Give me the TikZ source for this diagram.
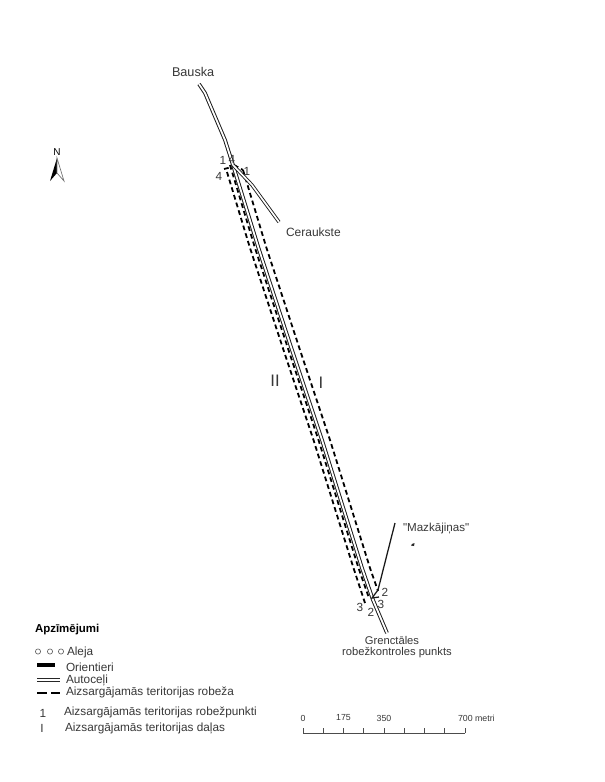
\documentclass[tikz,border=0pt]{standalone}
\usepackage{fontspec}
\setmainfont{Liberation Sans}
\newfontfamily\plainfam{Liberation Sans}
\tikzset{
  lbl/.style={inner sep=0pt,outer sep=0pt,text=black!78,font=\fontsize{8.85}{10.5}\selectfont},
  small/.style={lbl,font=\fontsize{6.6}{8}\selectfont},
  roadline/.style={draw=black!90,double=white,line width=0.72pt,double distance=1.35pt,line join=round},
  sideroad/.style={draw=black!90,double=white,line width=0.65pt,double distance=1.25pt,line join=round},
  legendroad/.style={draw=black!85,line width=0.8pt},
  fence/.style={draw=black,line width=1.35pt,dash pattern=on 3.6pt off 2.4pt},
  track/.style={draw=black!90,line width=0.95pt},
  tick/.style={draw=black!70,line width=0.5pt}
}
\begin{document}
\begin{tikzpicture}[x=0.75pt,y=-0.75pt]
\useasboundingbox[fill=white] (0,0) rectangle (605,782);
% road waypoints
\coordinate (b0) at (199,84);
\coordinate (b1) at (205,93);
\coordinate (b2) at (225,140);
\coordinate (j1) at (233,165);
\coordinate (m1) at (258.5,248);
\coordinate (m2) at (292,350);
\coordinate (m3) at (322,440);
\coordinate (m4) at (362,568);
\coordinate (m5) at (373,600);
\coordinate (g0) at (387,633);
\coordinate (c1) at (252,185);
\coordinate (c2) at (279,222);
% boundary waypoints
\coordinate (l0) at (224,169);
\coordinate (l1) at (232,167);
\coordinate (l2) at (227,172);
\coordinate (l3) at (250,248);
\coordinate (l4) at (283.5,350);
\coordinate (l5) at (313.5,440);
\coordinate (l6) at (353.5,568);
\coordinate (l7) at (365,603);
\coordinate (n0) at (230,165);
\coordinate (n1) at (255,248);
\coordinate (n2) at (288.5,350);
\coordinate (n3) at (318.5,440);
\coordinate (n4) at (358.5,568);
\coordinate (n5) at (369,598);
\coordinate (r0) at (234,165);
\coordinate (r1) at (243,170);
\coordinate (r2) at (266.5,248);
\coordinate (r3) at (300,350);
\coordinate (r4) at (330,440);
\coordinate (r5) at (370,568);
\coordinate (r6) at (378,591);
% farm track
\coordinate (t0) at (395,523);
\coordinate (t1) at (378,590);
\coordinate (t2) at (372,598);
\coordinate (t3) at (379,597);
% boundary
\draw[fence] (l0) -- (l1);
\draw[fence] (l2) -- (l3) -- (l4) -- (l5) -- (l6) -- (l7);
\draw[fence] (n0) -- (n1) -- (n2) -- (n3) -- (n4) -- (n5);
\draw[fence] (r0) -- (r1);
\draw[fence] (r1) -- (r2) -- (r3) -- (r4) -- (r5) -- (r6);
% roads
\draw[roadline] (b0) -- (b1) -- (b2) -- (j1) -- (m1) -- (m2) -- (m3) -- (m4) -- (m5) -- (g0);
\draw[sideroad] (j1) -- (c1) -- (c2);
\draw[track] (t0) -- (t1) -- (t2) -- (t3);
\fill[black!85] (412,544) -- (414.5,543) -- (414,546) -- (411,545.5) -- cycle;
% place labels
\node[lbl,anchor=west,font=\fontsize{9.5}{11}\selectfont] (bauska) at (172,72) {Bauska};
\node[lbl,anchor=west,font=\fontsize{9}{11}\selectfont] (cer) at (286,232) {Ceraukste};
\node[lbl,anchor=west,font=\plainfam\fontsize{8.7}{10}\selectfont] (maz) at (403,529) {"Mazkājiņas"};
\node[lbl,font=\fontsize{8.4}{9.9}\selectfont] (gr) at (392,640) {Grenctāles};
\node[lbl,font=\fontsize{8.4}{9.9}\selectfont] (gr2) at (397,653) {robežkontroles punkts};
% point numbers
\node[lbl] (p1a) at (223,160) {1};
\node[lbl] (p4a) at (232,159) {4};
\node[lbl] (p4b) at (219,176) {4};
\node[lbl] (p1b) at (247,171) {1};
\node[lbl] (p2a) at (385,592) {2};
\node[lbl] (p3a) at (381,604) {3};
\node[lbl] (p3b) at (360,607) {3};
\node[lbl] (p2b) at (371,612) {2};
% parts
\node[lbl,font=\fontsize{12.5}{14}\selectfont] (partII) at (275,381) {II};
\node[lbl,font=\fontsize{12.5}{14}\selectfont] (partI) at (321,383) {I};
% north arrow
\node[small,text=black,font=\fontsize{7.5}{8}\selectfont] (north) at (57,152) {N};
\fill[black] (57,158) -- (50,181) -- (57,173) -- cycle;
\draw[black!55,line width=0.5pt,fill=white] (57,158) -- (64,181) -- (57,173) -- cycle;
% legend
\node[lbl,anchor=west,text=black,font=\fontsize{8.6}{11}\bfseries\selectfont] (ltitle) at (35,630) {Apzīmējumi};
\foreach \cx in {38,50,61}
  \draw[black!60,line width=0.5pt] (\cx,651.5) circle (2.6);
\node[lbl,anchor=west] (la) at (67,652) {Aleja};
\fill[black] (37,663.3) rectangle (55,667);
\node[lbl,anchor=west] (lo) at (66,667) {Orientieri};
\draw[legendroad] (37,678.3) -- (60,678.3);
\draw[legendroad] (37,681.7) -- (60,681.7);
\node[lbl,anchor=west] (lu) at (66,680) {Autoceļi};
\draw[draw=black,line width=1.2pt] (37,693) -- (47,693);
\draw[draw=black,line width=1.2pt] (51,693) -- (60,693);
\node[lbl,anchor=west] (lz) at (66,692) {Aizsargājamās teritorijas robeža};
\node[lbl] (ln) at (43,713) {1};
\node[lbl,anchor=west] (lp) at (64,712) {Aizsargājamās teritorijas robežpunkti};
\node[lbl] (lI) at (42,728) {I};
\node[lbl,anchor=west] (ld) at (65,728) {Aizsargājamās teritorijas daļas};
% scale bar
\draw[tick] (303,733) -- (465,733);
\foreach \tx in {303,323.2,343.5,363.7,384,404.2,424.5,444.7,465}
  \draw[tick] (\tx,733) -- (\tx,728);
\node[small] (s0) at (303,718) {0};
\node[small] (s1) at (343.5,718) {175};
\node[small] (s2) at (384,718) {350};
\node[small,anchor=west] (s3) at (458,718) {700 metri};
\end{tikzpicture}
\end{document}
